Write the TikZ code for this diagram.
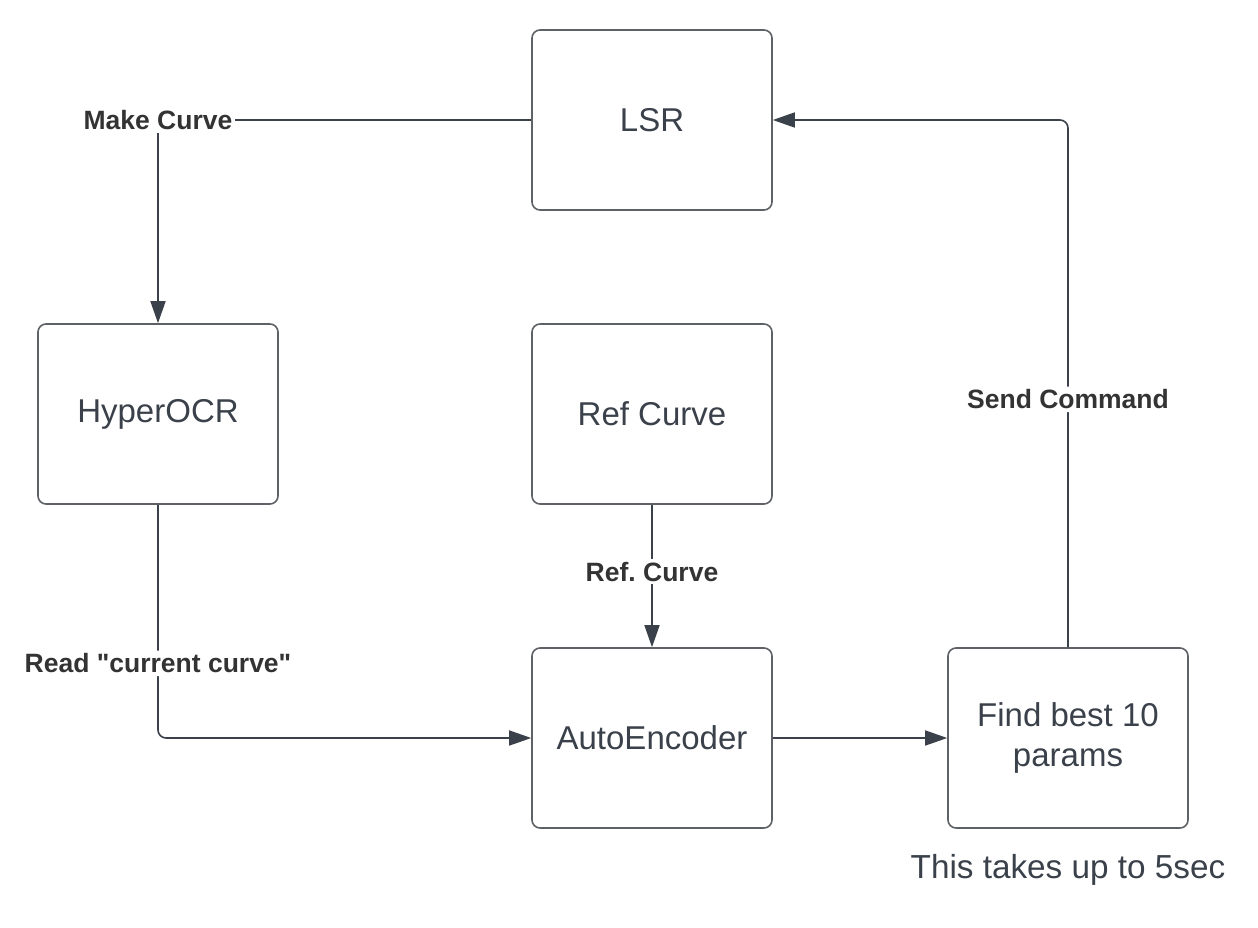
\documentclass[tikz,border=0pt]{standalone}
\usepackage{fontspec}
\setmainfont{Liberation Sans}
\usetikzlibrary{arrows.meta}
\definecolor{linegray}{HTML}{3A414A}
\definecolor{boxgray}{HTML}{5E6166}
\definecolor{lblgray}{HTML}{333333}
\newcommand{\dq}{\XeTeXglyph\XeTeXcharglyph"22\relax}
\frenchspacing
\begin{document}
\begin{tikzpicture}[x=1pt, y=-1pt,
	box/.style={draw=boxgray, line width=1.6pt, rounded corners=8pt, minimum width=240pt, minimum height=180pt, align=center, text=linegray, font=\fontsize{33}{40}\selectfont},
	flow/.style={draw=linegray, line width=1.6pt, -{Triangle[length=22pt,width=15pt]}},
	lbl/.style={fill=white, inner sep=3pt, text=lblgray, font=\fontsize{26.5}{30}\selectfont\bfseries}]
\useasboundingbox (0,0) rectangle (1258,928);

\node[box] (lsr)   at (652,120) {LSR};
\node[box] (hyper) at (158,414) {HyperOCR};
\node[box] (ref)   at (652,414) {Ref Curve};
\node[box] (auto)  at (652,738) {AutoEncoder};
\node[box] (find)  at (1068,738) {Find best 10\\params};
\node[text=linegray, font=\fontsize{33.3}{40}\selectfont] (note) at (1068,870) {This takes up to 5sec};

\draw[flow] (lsr.west) -| node[lbl, pos=0.5] {Make Curve} (hyper.north);
\draw[flow, rounded corners=8pt] (hyper.south) |- node[lbl, pos=0.34] {Read \dq current curve\dq} (auto.west);
\draw[flow] (ref.south) -- node[lbl, pos=0.47] {Ref. Curve} (auto.north);
\draw[flow] (auto.east) -- (find.west);
\draw[flow, rounded corners=8pt] (find.north) |- node[lbl, pos=0.235] {Send Command} (lsr.east);
\end{tikzpicture}
\end{document}
